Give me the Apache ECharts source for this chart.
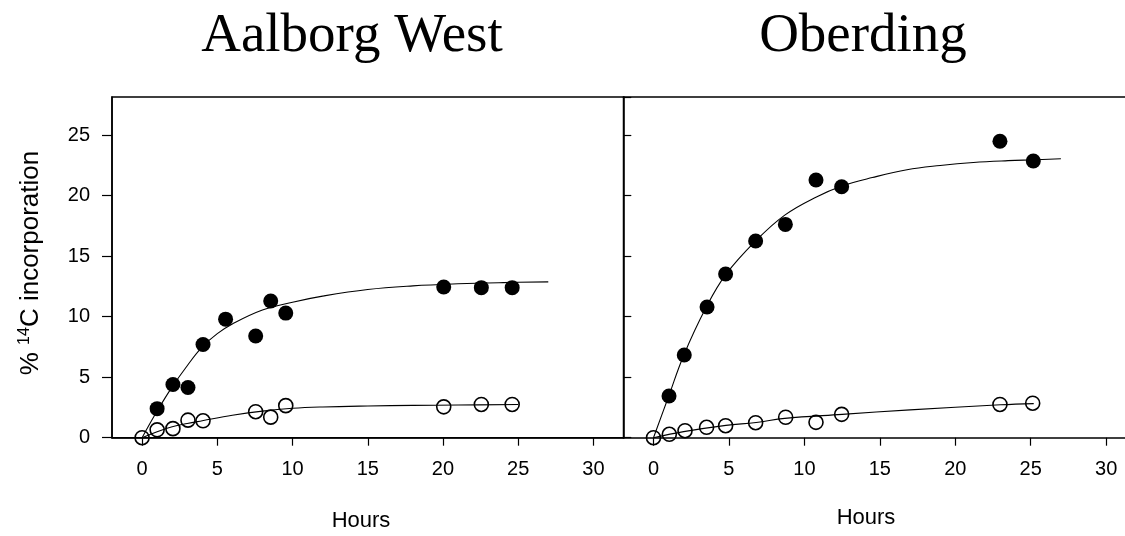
<!DOCTYPE html>
<html>
<head>
<meta charset="utf-8">
<script src="https://cdn.jsdelivr.net/npm/echarts@6/dist/echarts.min.js"></script>
<style>
  html, body { margin: 0; padding: 0; background: #fff; }
  #chart { width: 1125px; height: 536px; }
</style>
</head>
<body>
<div id="chart"></div>
<script>
// --- data -------------------------------------------------------------------

const panelTitles = ['Aalborg West', 'Oberding']
const xTicks = [0, 5, 10, 15, 20, 25, 30]

// Aalborg West, filled circles
const aalborgFilledX = [1.0, 2.05, 3.05, 4.05, 5.55, 7.55, 8.55, 9.55, 20.05, 22.55, 24.6]
const aalborgFilledY = [2.4, 4.4, 4.15, 7.7, 9.8, 8.4, 11.3, 10.3, 12.45, 12.4, 12.4]
// Aalborg West, open circles
const aalborgOpenX = [0, 1.0, 2.05, 3.05, 4.05, 7.55, 8.55, 9.55, 20.05, 22.55, 24.6]
const aalborgOpenY = [0, 0.65, 0.75, 1.45, 1.4, 2.15, 1.7, 2.65, 2.55, 2.75, 2.75]
// Aalborg West, fitted curves
const aalborgFitFilledX = [0, 1, 2, 3, 4, 5, 6, 8, 10, 12, 15, 18, 21, 24, 27]
const aalborgFitFilledY = [0, 2.2, 4.2, 5.95, 7.5, 8.6, 9.4, 10.55, 11.2, 11.7, 12.25, 12.55, 12.72, 12.82, 12.88]
const aalborgFitOpenX = [0, 1, 2, 3, 4, 6, 8, 10, 12, 15, 18, 21, 25]
const aalborgFitOpenY = [0, 0.5, 0.9, 1.17, 1.4, 1.85, 2.2, 2.43, 2.54, 2.62, 2.67, 2.7, 2.74]

// Oberding, filled circles
const oberdingFilledX = [1.03, 2.04, 3.55, 4.78, 6.77, 8.74, 10.77, 12.47, 22.96, 25.17]
const oberdingFilledY = [3.45, 6.83, 10.8, 13.53, 16.26, 17.63, 21.3, 20.74, 24.5, 22.87]
// Oberding, open circles
const oberdingOpenX = [0, 1.05, 2.09, 3.52, 4.78, 6.77, 8.76, 10.77, 12.47, 22.96, 25.13]
const oberdingOpenY = [0, 0.28, 0.58, 0.86, 0.99, 1.24, 1.69, 1.27, 1.93, 2.75, 2.85]
// Oberding, fitted curves
const oberdingFitFilledX = [0, 1, 2, 3.5, 4.8, 6.8, 8.7, 10.8, 12.5, 14.5, 16.8, 19, 21.2, 23.5, 25.2, 27]
const oberdingFitFilledY = [0, 3.4, 6.8, 10.8, 13.5, 16.3, 18.4, 19.9, 20.8, 21.5, 22.15, 22.5, 22.75, 22.9, 22.97, 23.05]
const oberdingFitOpenX = [0, 2, 4.8, 6.8, 8.7, 12.5, 17, 23, 25.2]
const oberdingFitOpenY = [0, 0.5, 1.02, 1.25, 1.6, 1.93, 2.3, 2.72, 2.82]

// --- helpers ------------------------------------------------------------------

const zip = (xs, ys) => xs.map((x, i) => [x, ys[i]])
const SANS = '"Liberation Sans", Arial, sans-serif'
const SERIF = '"Liberation Serif", "Times New Roman", serif'
const Y_MAX = 28.16

function xAxisFor(gridIndex, max) {
  return {
    type: 'value',
    gridIndex,
    min: -2,
    max,
    axisLine: { show: true, onZero: false, lineStyle: { color: '#000', width: 1.5 } },
    axisTick: { show: true, inside: false, length: 8, customValues: xTicks, lineStyle: { color: '#000', width: 1.2 } },
    axisLabel: { customValues: xTicks, margin: 22, color: '#000', fontSize: 20, fontFamily: SANS },
    splitLine: { show: false }
  }
}

// bare line along the top of a panel (frame only)
function topFrameFor(gridIndex, max) {
  return {
    type: 'value',
    gridIndex,
    position: 'top',
    min: -2,
    max,
    axisLine: { show: true, onZero: false, lineStyle: { color: '#000', width: 1.5 } },
    axisTick: { show: false },
    axisLabel: { show: false },
    splitLine: { show: false }
  }
}

function yAxisFor(gridIndex, showLabels) {
  return {
    type: 'value',
    gridIndex,
    min: 0,
    max: Y_MAX,
    interval: 5,
    axisLine: { show: true, onZero: false, lineStyle: { color: '#000', width: 1.5 } },
    axisTick: { show: true, inside: !showLabels, length: showLabels ? 10 : 8, lineStyle: { color: '#000', width: 1.2 } },
    axisLabel: { show: showLabels, showMaxLabel: false, margin: 22, color: '#000', fontSize: 20, fontFamily: SANS },
    splitLine: { show: false }
  }
}

function filledSeries(idx, data) {
  return {
    type: 'scatter', xAxisIndex: idx, yAxisIndex: idx, data,
    symbol: 'circle', symbolSize: 15, z: 4,
    itemStyle: { color: '#000', opacity: 1 }
  }
}

function openSeries(idx, data) {
  return {
    type: 'scatter', xAxisIndex: idx, yAxisIndex: idx, data,
    symbol: 'circle', symbolSize: 14, z: 4,
    itemStyle: { color: 'rgba(0,0,0,0)', borderColor: '#000', borderWidth: 1.6, opacity: 1 }
  }
}

function fitSeries(idx, data) {
  return {
    type: 'line', xAxisIndex: idx, yAxisIndex: idx, data,
    smooth: 0.4, symbol: 'none', z: 3,
    lineStyle: { color: '#000', width: 1.1 }
  }
}

// --- chart --------------------------------------------------------------------

const chart = echarts.init(document.getElementById('chart'), null, { renderer: 'canvas' })

const rightMax = 501.7 / 15.09 - 2

chart.setOption({
  backgroundColor: '#fff',
  animation: false,
  grid: [
    { left: 112, top: 97, width: 511.5, height: 340.7, show: true, borderColor: '#000', borderWidth: 1.5, backgroundColor: 'transparent' },
    { left: 623.3, top: 97, width: 501.7, height: 340.7, show: false }
  ],
  xAxis: [xAxisFor(0, 32), xAxisFor(1, rightMax), topFrameFor(1, rightMax)],
  yAxis: [yAxisFor(0, true), yAxisFor(1, false)],
  series: [
    fitSeries(0, zip(aalborgFitFilledX, aalborgFitFilledY)),
    fitSeries(0, zip(aalborgFitOpenX, aalborgFitOpenY)),
    filledSeries(0, zip(aalborgFilledX, aalborgFilledY)),
    openSeries(0, zip(aalborgOpenX, aalborgOpenY)),
    fitSeries(1, zip(oberdingFitFilledX, oberdingFitFilledY)),
    fitSeries(1, zip(oberdingFitOpenX, oberdingFitOpenY)),
    filledSeries(1, zip(oberdingFilledX, oberdingFilledY)),
    openSeries(1, zip(oberdingOpenX, oberdingOpenY))
  ],
  graphic: [
    { type: 'text', x: 352, y: 37, style: { text: panelTitles[0], font: '55px ' + SERIF, fill: '#000', align: 'center', verticalAlign: 'middle' } },
    { type: 'text', x: 863, y: 37, style: { text: panelTitles[1], font: '55px ' + SERIF, fill: '#000', align: 'center', verticalAlign: 'middle' } },
    { type: 'text', x: 361, y: 521, style: { text: 'Hours', font: '22px ' + SANS, fill: '#000', align: 'center', verticalAlign: 'middle' } },
    { type: 'text', x: 866, y: 518, style: { text: 'Hours', font: '22px ' + SANS, fill: '#000', align: 'center', verticalAlign: 'middle' } },
    {
      type: 'text', x: 31, y: 263, rotation: Math.PI / 2,
      style: {
        text: '% {sup|14}C incorporation',
        font: '26px ' + SANS, fill: '#000', align: 'center', verticalAlign: 'middle',
        rich: { sup: { fontSize: 16, fontFamily: SANS, fill: '#000', padding: [0, 0, 13, 0] } }
      }
    }
  ]
})
</script>
</body>
</html>
